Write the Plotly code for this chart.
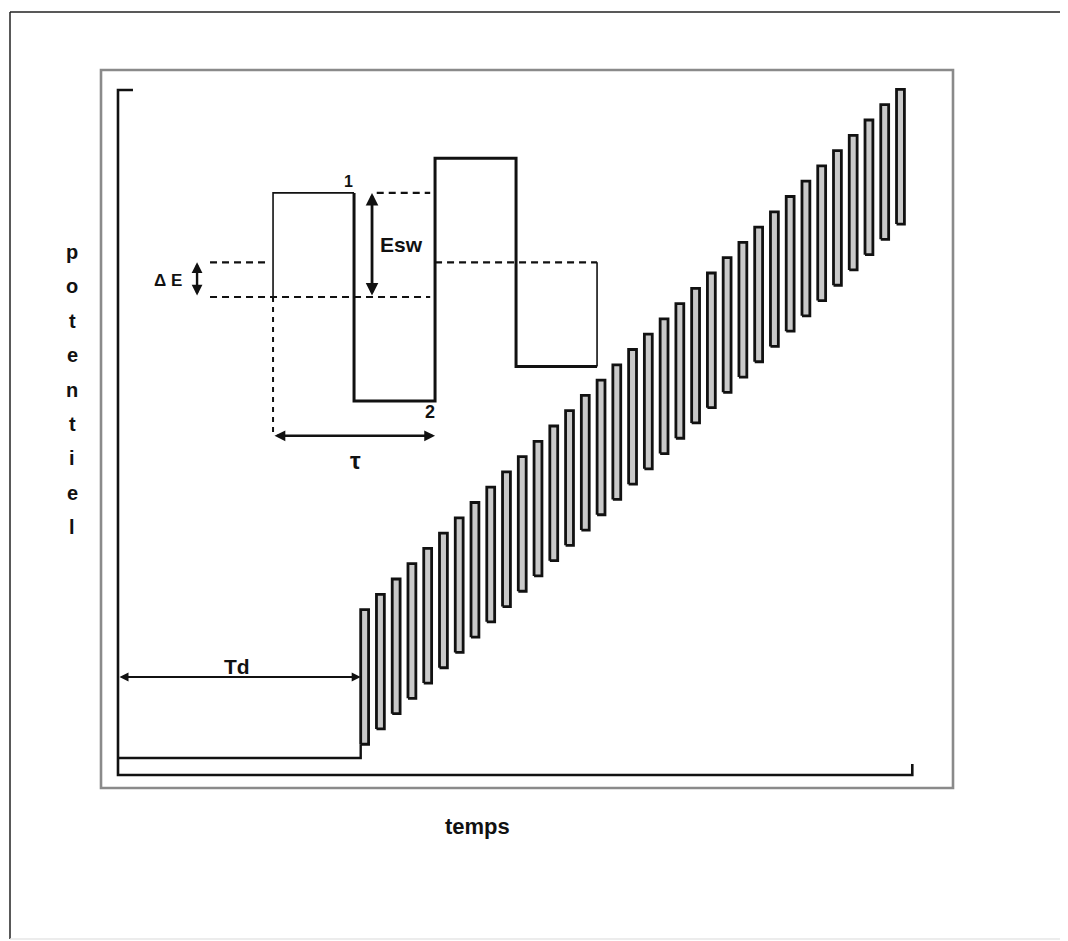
import plotly.graph_objects as go

# page is rendered with an 8px body margin: the figure covers page px 8..1068 x 8..941
OFF = 8
W, H = 1068 - OFF, 941 - OFF

# ---------------- main square-wave data (time in units of tau, potential in mV) ----------------
T_D = 15.4          # initial delay Td
PULSE_W = 0.5       # half period
E_INIT = 0          # initial (rest) potential
E_SW = 44           # square-wave amplitude
pulse_starts = [15.4, 16.4, 17.4, 18.4, 19.4, 20.4, 21.4, 22.4, 23.4, 24.4,
                25.4, 26.4, 27.4, 28.4, 29.4, 30.4, 31.4, 32.4, 33.4, 34.4,
                35.4, 36.4, 37.4, 38.4, 39.4, 40.4, 41.4, 42.4, 43.4, 44.4,
                45.4, 46.4, 47.4, 48.4, 49.4]
step_centres = [53, 63, 73, 83, 93, 103, 113, 123, 133, 143,
                153, 163, 173, 183, 193, 203, 213, 223, 233, 243,
                253, 263, 273, 283, 293, 303, 313, 323, 333, 343,
                353, 363, 373, 383, 393]
axis_t = [0.95, 0, 0, 50.4, 50.4]
axis_e = [436.6, 436.6, -11.1, -11.1, -3.9]
TD_ARROW_E = 53

X_RANGE = [-6.98, 60.28]
Y_RANGE = [-119.6, 490.2]

# ---------------- inset data (time in tau, potential in units of dE) ----------------
IN_X_RANGE = [-1.636, 4.907]
IN_Y_RANGE = [-18.56, 8.329]
inset_thin1_t = [0, 0, 0.5]
inset_thin1_e = [0, 3, 3]
inset_thick_t = [0.5, 0.5, 1, 1, 1.5, 1.5, 2]
inset_thick_e = [3, -3, -3, 4, 4, -2, -2]
inset_thin2_t = [2, 2]
inset_thin2_e = [-2, 1]

fig = go.Figure()
INK = "#111111"

# bars of the square wave
bx, by = [], []
for s, c in zip(pulse_starts, step_centres):
    bx += [s, s, s + PULSE_W, s + PULSE_W, s, None]
    by += [c - E_SW, c + E_SW, c + E_SW, c - E_SW, c - E_SW, None]
fig.add_trace(go.Scatter(x=bx, y=by, mode="lines", fill="toself",
                         fillcolor="#c9c9c9", line=dict(color=INK, width=2.8),
                         hoverinfo="skip", showlegend=False))

# baseline (rest potential during Td)
fig.add_trace(go.Scatter(x=[0, T_D, T_D],
                         y=[E_INIT, E_INIT, step_centres[0] - E_SW],
                         mode="lines", line=dict(color=INK, width=2.4),
                         showlegend=False, hoverinfo="skip"))
# axis brackets
fig.add_trace(go.Scatter(x=axis_t, y=axis_e, mode="lines",
                         line=dict(color=INK, width=2.6),
                         showlegend=False, hoverinfo="skip"))

# ---------------- inset traces ----------------
def inset_line(x, y, width, dash=None):
    fig.add_trace(go.Scatter(x=x, y=y, xaxis="x2", yaxis="y2", mode="lines",
                             line=dict(color=INK, width=width, dash=dash),
                             showlegend=False, hoverinfo="skip"))

inset_line(inset_thin1_t, inset_thin1_e, 1.6)
inset_line(inset_thick_t, inset_thick_e, 3.0)
inset_line(inset_thin2_t, inset_thin2_e, 1.6)
DASH = "7px,5px"
inset_line([-0.389, -0.037], [1, 1], 2.2, DASH)
inset_line([1, 2], [1, 1], 2.2, DASH)
inset_line([-0.389, 0.97], [0, 0], 2.2, DASH)
inset_line([0.64, 0.97], [3, 3], 2.2, DASH)
inset_line([0, 0], [0, -4], 2.0, "5px,5px")

ann = []
def arrow(x0, y0, x1, y1, xr, yr, w=2.2):
    ann.append(dict(x=x1, y=y1, ax=x0, ay=y0, xref=xr, yref=yr, axref=xr, ayref=yr,
                    text="", showarrow=True, arrowhead=2, arrowside="end+start",
                    arrowsize=0.9, arrowwidth=w, arrowcolor=INK,
                    standoff=0, startstandoff=0))

arrow(0, TD_ARROW_E, T_D, TD_ARROW_E, "x", "y", 2.0)
arrow(0, -4, 1, -4, "x2", "y2", 2.4)
arrow(-0.469, 0, -0.469, 1, "x2", "y2", 2.4)
arrow(0.611, 0, 0.611, 3, "x2", "y2", 2.8)

FONT = "Liberation Sans, Arial, sans-serif"
def label(text, x, y, xr, yr, size):
    ann.append(dict(x=x, y=y, xref=xr, yref=yr, text="<b>%s</b>" % text,
                    showarrow=False, font=dict(family=FONT, size=size, color=INK),
                    xanchor="center", yanchor="middle"))

label("Td", T_D / 2 - 0.15, 60, "x", "y", 21)
label("Esw", 0.79, 1.5, "x2", "y2", 21)
label("Δ E", -0.648, 0.49, "x2", "y2", 17)
label("1", 0.463, 3.33, "x2", "y2", 16)
label("2", 0.97, -3.3, "x2", "y2", 18)
label("τ", 0.506, -4.7, "x2", "y2", 24)

def px(x, y):
    """page pixel -> paper fraction"""
    return (x - OFF) / W, 1 - (y - OFF) / H

# axis titles (paper coordinates)
ylab = "potentiel"
for i, ch in enumerate(ylab):
    xx, yy = px(72, 252 + i * 34.4)
    label(ch, xx, yy, "paper", "paper", 20)
xx, yy = px(477, 826)
label("temps", xx, yy, "paper", "paper", 22)

# frames
shapes = []
x0, y0 = px(10, 12); x1, y1 = px(1068, 939)
shapes.append(dict(type="line", xref="paper", yref="paper", x0=x0, y0=y0, x1=x1, y1=y0,
                   line=dict(color="#222222", width=1.5)))
shapes.append(dict(type="line", xref="paper", yref="paper", x0=x0, y0=y0, x1=x0, y1=y1,
                   line=dict(color="#222222", width=1.5)))
shapes.append(dict(type="line", xref="paper", yref="paper", x0=x0, y0=y1, x1=x1, y1=y1,
                   line=dict(color="#e6e6e6", width=1.5)))
a0, b0 = px(101, 70); a1, b1 = px(953, 788)
shapes.append(dict(type="rect", xref="paper", yref="paper", x0=a0, y0=b0, x1=a1, y1=b1,
                   line=dict(color="#8a8a8a", width=2.6)))

hidden = dict(visible=False, showgrid=False, zeroline=False, fixedrange=True)
fig.update_layout(
    width=W, height=H, margin=dict(l=0, r=0, t=0, b=0),
    paper_bgcolor="white", plot_bgcolor="white",
    xaxis=dict(range=X_RANGE, domain=[0, 1], **hidden),
    yaxis=dict(range=Y_RANGE, domain=[0, 1], **hidden),
    xaxis2=dict(range=IN_X_RANGE, domain=[0, 1], overlaying="x", anchor="y2", **hidden),
    yaxis2=dict(range=IN_Y_RANGE, domain=[0, 1], overlaying="y", anchor="x2", **hidden),
    annotations=ann, shapes=shapes, showlegend=False,
)
fig.write_html("out.html")
